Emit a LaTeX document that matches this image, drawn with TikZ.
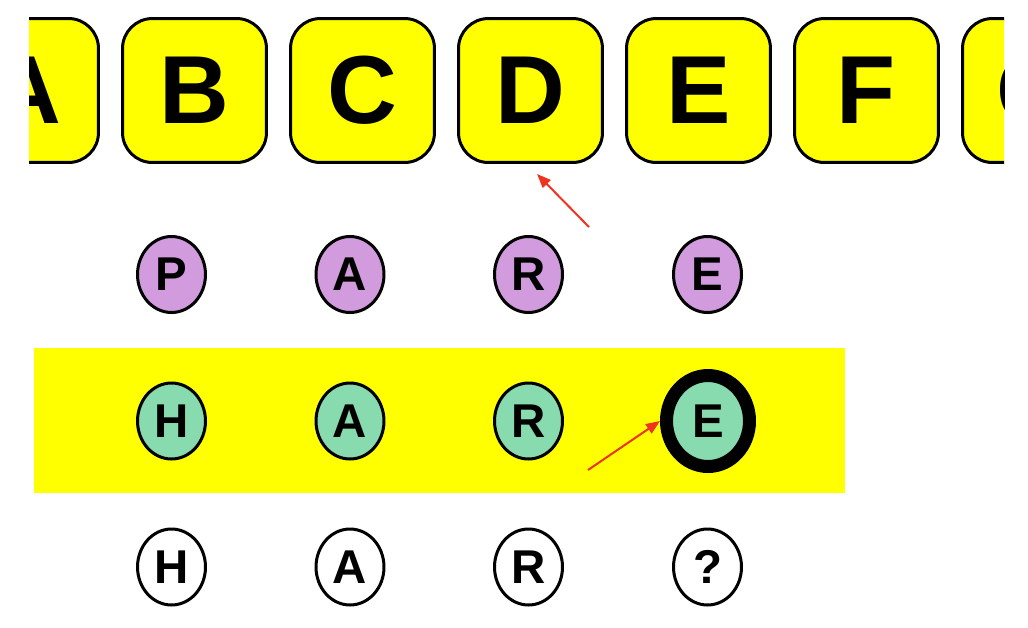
\documentclass[tikz,border=0pt]{standalone}
\usepackage{fontspec}
\setmainfont{Liberation Sans}
\usepackage{tikz}
\usetikzlibrary{shapes.geometric,arrows.meta}
\definecolor{tileyellow}{RGB}{255,255,0}
\definecolor{guess}{RGB}{210,155,222}
\definecolor{match}{RGB}{135,219,175}
\definecolor{pointer}{RGB}{238,52,30}
\tikzset{%
  tile/.style={draw, line width=0.06cm, rounded corners=0.6cm, fill=tileyellow,
    minimum width=2.88cm, minimum height=2.88cm, inner sep=0,
    font=\fontsize{55}{60}\selectfont\bfseries},% keyboard letter
  slot/.style={draw, ellipse, line width=0.06cm, inner sep=0,
    minimum width=1.36cm, minimum height=1.52cm,
    font=\fontsize{27}{30}\selectfont\bfseries},% letter of a word
  tried/.style={slot, fill=guess},% first guess
  found/.style={slot, fill=match},% current word
  open/.style={slot, fill=white},% word to solve
  focus/.style={found, line width=0.26cm, minimum width=1.66cm, minimum height=1.82cm},
  hint/.style={draw=pointer, line width=0.04cm, -{Triangle[length=0.28cm, width=0.22cm]}}
}

\begin{document}
\begin{tikzpicture}[x=0.02cm, y=-0.02cm]
\useasboundingbox (0,0) rectangle (1028,627);

% keyboard row
\begin{scope}
\clip (29,0) rectangle (1004,627);
\node[tile] (tA) at (26.5, 90.5)   {A};
\node[tile] (tB) at (194.5, 90.5)  {B};
\node[tile] (tC) at (362.5, 90.5)  {C};
\node[tile] (tD) at (530.5, 90.5)  {D};
\node[tile] (tE) at (698.5, 90.5)  {E};
\node[tile] (tF) at (866.5, 90.5)  {F};
\node[tile] (tG) at (1034.5, 90.5) {G};
\end{scope}

% band behind the current word
\fill[tileyellow] (34,348) rectangle (845,493);

\node[tried] (p1) at (171.5, 274.5) {P};
\node[tried] (p2) at (350, 274.5)   {A};
\node[tried] (p3) at (528.5, 274.5) {R};
\node[tried] (p4) at (707.5, 274.5) {E};

\node[found] (h1) at (171.5, 421) {H};
\node[found] (h2) at (350, 421)   {A};
\node[found] (h3) at (528.5, 421) {R};
\node[focus] (h4) at (708, 421)   {E};

\node[open] (q1) at (171.5, 567) {H};
\node[open] (q2) at (350, 567)   {A};
\node[open] (q3) at (528.5, 567) {R};
\node[open] (q4) at (707.5, 567) {?};

\coordinate (up) at (589, 227);
\coordinate (in) at (588, 470);
\draw[hint] (up) -- (537, 174);
\draw[hint] (in) -- (h4.west);

\end{tikzpicture}
\end{document}
